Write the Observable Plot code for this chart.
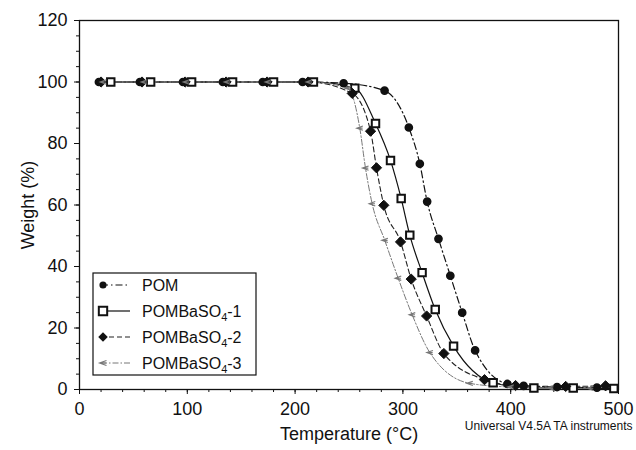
<!DOCTYPE html>
<html>
<head>
<meta charset="utf-8">
<script src="https://cdn.jsdelivr.net/npm/d3@7"></script>
<script src="https://cdn.jsdelivr.net/npm/@observablehq/plot@0.6"></script>
<style>
  html, body { margin: 0; padding: 0; background: #fff; }
  #chart { width: 636px; height: 450px; }
</style>
</head>
<body>
<div id="chart"></div>
<script>
// ---- Data ----
const seriesNames = ["POM", "POMBaSO4-1", "POMBaSO4-2", "POMBaSO4-3"];

const tempPOM = [18, 56, 96, 133, 170, 207, 245, 283, 305.5, 315.7, 322.5, 333, 344, 355, 367, 397, 412, 443, 480];
const wPOM    = [100, 100, 100, 100, 100, 100, 99.6, 97.2, 85.2, 73.4, 61.1, 49, 37, 25, 12.7, 1.8, 1.2, 0.8, 0.6];

const temp1 = [29, 66, 104, 142, 180, 217, 255.4, 274.6, 288.5, 298.4, 306.4, 317.8, 330, 347, 383.7, 421.5, 458, 495.7];
const w1    = [100, 100, 100, 100, 100, 100, 98, 86.5, 74.5, 62.1, 50.2, 38, 26, 14.1, 2.2, 0.5, 0.5, 0.3];

const temp2 = [20, 58, 98, 136, 174, 212, 253, 270, 275.5, 282.3, 297.8, 307.7, 322, 338, 375.7, 404.5, 451, 488];
const w2    = [100, 100, 100, 100, 100, 100, 96.3, 84, 72.1, 59.9, 48, 35.9, 23.9, 11.7, 3.2, 1.3, 1.0, 1.2];

const temp3 = [22, 60, 99, 137, 175, 213, 249, 260, 265.3, 271.5, 283.2, 295.6, 308.6, 325, 362, 400, 437, 474];
const w3    = [100, 100, 100, 100, 100, 100, 98, 85, 72, 60.4, 48.5, 36.2, 24.3, 12, 2, 0.8, 0.5, 0.4];

const xTicks = [0, 100, 200, 300, 400, 500];
const yTicks = [0, 20, 40, 60, 80, 100, 120];
const xLabel = "Temperature (°C)";
const yLabel = "Weight (%)";
const footnote = "Universal V4.5A TA instruments";

// ---- Build table ----
const raw = [[tempPOM, wPOM], [temp1, w1], [temp2, w2], [temp3, w3]];
const data = raw.flatMap(([t, w], i) => t.map((x, j) => ({series: seriesNames[i], t: x, w: w[j]})));
const bySeries = name => data.filter(d => d.series === name);

// custom left-pointing arrow symbol
const arrowLeft = {
  draw(ctx, size) {
    const r = Math.sqrt(size) / 2;
    ctx.moveTo(r, -r * 0.7);
    ctx.lineTo(-r, 0);
    ctx.lineTo(r, r * 0.7);
    ctx.moveTo(-r, 0);
    ctx.lineTo(r * 0.9, 0);
  }
};

const styles = {
  "POM":        {stroke: "#111", dash: "7,3,1.5,3", width: 1.2},
  "POMBaSO4-1": {stroke: "#111", dash: null, width: 1.2},
  "POMBaSO4-2": {stroke: "#222", dash: "5,3", width: 1.1},
  "POMBaSO4-3": {stroke: "#777", dash: "6,2,1.5,2", width: 1.0}
};

const xMinor = d3.range(0, 501, 20);
const yMinor = d3.range(0, 121, 5);

const lineMarks = seriesNames.map(n => Plot.line(bySeries(n), {
  x: "t", y: "w", curve: "monotone-x",
  stroke: styles[n].stroke, strokeWidth: styles[n].width,
  strokeDasharray: styles[n].dash
}));

const plot = Plot.plot({
  width: 636,
  height: 450,
  marginLeft: 79,
  marginRight: 18,
  marginTop: 20,
  marginBottom: 61,
  style: {fontFamily: "'Liberation Sans', Arial, sans-serif", fontSize: "18px", color: "#111", background: "#fff"},
  x: {domain: [0, 500]},
  y: {domain: [0, 120]},
  marks: [
    Plot.frame({stroke: "#111", strokeWidth: 1.3}),
    Plot.axisX({ticks: xMinor, tickSize: 3, text: null, label: null, strokeWidth: 1}),
    Plot.axisY({ticks: yMinor, tickSize: 3, text: null, label: null, strokeWidth: 1}),
    Plot.axisX({ticks: xTicks, tickSize: 5, tickPadding: 8, fontSize: 18,
      label: xLabel, labelAnchor: "center", labelArrow: "none", labelOffset: 50}),
    Plot.axisY({ticks: yTicks, tickSize: 5, tickPadding: 7, fontSize: 18,
      label: yLabel, labelAnchor: "center", labelArrow: "none", labelOffset: 58}),
    ...lineMarks,
    Plot.dot(bySeries("POM"), {x: "t", y: "w", symbol: "circle", r: 3.6, fill: "#111", stroke: "#111"}),
    Plot.dot(bySeries("POMBaSO4-1"), {x: "t", y: "w", symbol: "square", r: 4.2, fill: "#fff", stroke: "#111", strokeWidth: 2}),
    Plot.dot(bySeries("POMBaSO4-2"), {x: "t", y: "w", symbol: "diamond2", r: 4.6, fill: "#111", stroke: "#111", strokeWidth: 1}),
    Plot.dot(bySeries("POMBaSO4-3"), {x: "t", y: "w", symbol: arrowLeft, r: 3.5, fill: "none", stroke: "#777", strokeWidth: 1.1}),
    Plot.text([footnote], {frameAnchor: "bottom-right", dx: 14, dy: 40, fontSize: 12, textAnchor: "end", fill: "#111"})
  ]
});

document.getElementById("chart").appendChild(plot);

// ---- Legend (drawn inside the plot SVG) ----
const svg = d3.select(plot);
const lg = svg.append("g").attr("class", "legend")
  .attr("font-family", "'Liberation Sans', Arial, sans-serif")
  .attr("text-anchor", "start");
lg.append("rect").attr("x", 93).attr("y", 273).attr("width", 163).attr("height", 102)
  .attr("fill", "#fff").attr("stroke", "#111").attr("stroke-width", 1.2);
const rowY = [285, 311, 337, 363];
const diamondSym = {draw(ctx, s){const r=Math.sqrt(s)/2; ctx.moveTo(0,-r); ctx.lineTo(r,0); ctx.lineTo(0,r); ctx.lineTo(-r,0); ctx.closePath();}};
const markerSym = [d3.symbol(d3.symbolCircle, 40), d3.symbol(d3.symbolSquare, 70), d3.symbol(diamondSym, 90), d3.symbol(arrowLeft, 49)];
seriesNames.forEach((n, i) => {
  const y = rowY[i];
  const st = styles[n];
  lg.append("line").attr("x1", 101).attr("x2", 130).attr("y1", y).attr("y2", y)
    .attr("stroke", st.stroke).attr("stroke-width", st.width).attr("stroke-dasharray", st.dash);
  const m = lg.append("path").attr("d", markerSym[i]()).attr("transform", `translate(103,${y})`);
  if (i === 0) m.attr("fill", "#111");
  else if (i === 1) m.attr("fill", "#fff").attr("stroke", "#111").attr("stroke-width", 2);
  else if (i === 2) m.attr("fill", "#111");
  else m.attr("fill", "none").attr("stroke", "#777").attr("stroke-width", 1.1);
  const t = lg.append("text").attr("x", 142).attr("y", y).attr("dy", "0.35em")
    .attr("font-size", 16).attr("fill", "#111").attr("text-anchor", "start");
  const mm = n.match(/^(.*SO)(4)(.*)$/);
  if (mm) {
    t.append("tspan").text(mm[1]);
    t.append("tspan").attr("font-size", 11).attr("dy", 4).text(mm[2]);
    t.append("tspan").attr("dy", -4).text(mm[3]);
  } else {
    t.text(n);
  }
});
</script>
</body>
</html>
